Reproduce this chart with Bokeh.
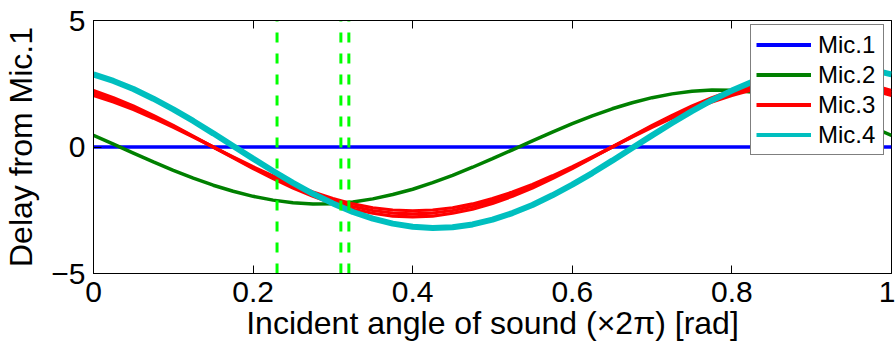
from bokeh.plotting import figure
from bokeh.models import Range1d, LinearAxis, FixedTicker, Legend, LegendItem
from bokeh.embed import file_html
from bokeh.resources import INLINE

# ---- data ----
angle = [0.000, 0.025, 0.050, 0.075, 0.100, 0.125, 0.150, 0.175, 0.200, 0.225,
         0.250, 0.275, 0.300, 0.325, 0.350, 0.375, 0.400, 0.425, 0.450, 0.475,
         0.500, 0.525, 0.550, 0.575, 0.600, 0.625, 0.650, 0.675, 0.700, 0.725,
         0.750, 0.775, 0.800, 0.825, 0.850, 0.875, 0.900, 0.925, 0.950, 0.975, 1.000]
mic1 = [0.0] * 41
mic2 = [0.46, 0.11, -0.24, -0.59, -0.92, -1.23, -1.51, -1.75, -1.95, -2.10,
        -2.20, -2.25, -2.24, -2.17, -2.05, -1.88, -1.67, -1.41, -1.12, -0.80,
        -0.46, -0.11, 0.24, 0.59, 0.92, 1.23, 1.51, 1.75, 1.95, 2.10,
        2.20, 2.25, 2.24, 2.17, 2.05, 1.88, 1.67, 1.41, 1.12, 0.80, 0.46]
mic3_a = [2.04, 1.78, 1.48, 1.14, 0.78, 0.39, 0.00, -0.39, -0.78, -1.14,
          -1.48, -1.78, -2.04, -2.25, -2.40, -2.49, -2.52, -2.49, -2.40, -2.25,
          -2.04, -1.78, -1.48, -1.14, -0.78, -0.39, 0.00, 0.39, 0.78, 1.14,
          1.48, 1.78, 2.04, 2.25, 2.40, 2.49, 2.52, 2.49, 2.40, 2.25, 2.04]
mic3_b = [2.14, 1.87, 1.55, 1.20, 0.82, 0.41, 0.00, -0.41, -0.82, -1.20,
          -1.55, -1.87, -2.14, -2.35, -2.51, -2.61, -2.64, -2.61, -2.51, -2.35,
          -2.14, -1.87, -1.55, -1.20, -0.82, -0.41, 0.00, 0.41, 0.82, 1.20,
          1.55, 1.87, 2.14, 2.35, 2.51, 2.61, 2.64, 2.61, 2.51, 2.35, 2.14]
mic3_c = [2.23, 1.95, 1.62, 1.25, 0.85, 0.43, 0.00, -0.43, -0.85, -1.25,
          -1.62, -1.95, -2.23, -2.46, -2.62, -2.73, -2.76, -2.73, -2.62, -2.46,
          -2.23, -1.95, -1.62, -1.25, -0.85, -0.43, 0.00, 0.43, 0.85, 1.25,
          1.62, 1.95, 2.23, 2.46, 2.62, 2.73, 2.76, 2.73, 2.62, 2.46, 2.23]
mic4 = [2.87, 2.61, 2.29, 1.91, 1.49, 1.03, 0.54, 0.04, -0.46, -0.95,
        -1.42, -1.85, -2.23, -2.57, -2.83, -3.03, -3.15, -3.20, -3.17, -3.06,
        -2.87, -2.61, -2.29, -1.91, -1.49, -1.03, -0.54, -0.04, 0.46, 0.95,
        1.42, 1.85, 2.23, 2.57, 2.83, 3.03, 3.15, 3.20, 3.17, 3.06, 2.87]
marker_angles = [0.23, 0.31, 0.32]
x_ticks = [0, 0.2, 0.4, 0.6, 0.8, 1]
x_tick_labels = ["0", "0.2", "0.4", "0.6", "0.8", "1"]
y_ticks = [-5, 0, 5]
y_tick_labels = ["\u22125", "0", "5"]
series_names = ["Mic.1", "Mic.2", "Mic.3", "Mic.4"]
series_colors = ["#0000ff", "#008000", "#ff0000", "#00bfbf"]

FONT = "Liberation Sans"

p = figure(width=895, height=351, output_backend="svg", toolbar_location=None,
           x_range=Range1d(0, 1), y_range=Range1d(-5, 5),
           min_border_left=92, min_border_right=4, min_border_top=20, min_border_bottom=78)
p.background_fill_color = "white"
p.border_fill_color = "white"
p.outline_line_color = "black"
p.outline_line_width = 1
p.xgrid.visible = False
p.ygrid.visible = False

def style_axis(ax, ticks, labels):
    ax.ticker = FixedTicker(ticks=ticks)
    ax.major_label_overrides = {t: l for t, l in zip(ticks, labels)}
    ax.major_tick_in = 8
    ax.major_tick_out = 0
    ax.minor_tick_in = 0
    ax.minor_tick_out = 0
    ax.axis_line_color = "black"
    ax.major_tick_line_color = "black"
    ax.major_label_text_font = FONT
    ax.major_label_text_font_size = "30px"
    ax.major_label_text_color = "black"
    ax.axis_label_text_font = FONT
    ax.axis_label_text_font_size = "32px"
    ax.axis_label_text_font_style = "normal"
    ax.axis_label_text_color = "black"

xa = p.xaxis[0]
style_axis(xa, x_ticks, x_tick_labels)
xa.axis_label = "Incident angle of sound (\u00d72\u03c0) [rad]"
xa.major_label_standoff = 8
xa.axis_label_standoff = 0

ya = p.yaxis[0]
style_axis(ya, y_ticks, y_tick_labels)
ya.axis_label = "Delay from Mic.1"
ya.major_label_standoff = 8
ya.axis_label_standoff = 9

top = LinearAxis()
style_axis(top, x_ticks, ["" for _ in x_ticks])
top.major_label_text_font_size = "0px"
top.major_label_standoff = 0
p.add_layout(top, "above")

p.line(angle, mic1, line_color=series_colors[0], line_width=3.5)
p.line(angle, mic2, line_color=series_colors[1], line_width=3.5)
for ys in (mic3_a, mic3_b, mic3_c):
    p.line(angle, ys, line_color=series_colors[2], line_width=3.2)
p.line(angle, mic4, line_color=series_colors[3], line_width=6)

p.segment(x0=marker_angles, y0=[-5] * len(marker_angles),
          x1=marker_angles, y1=[5] * len(marker_angles),
          line_color="#00ff00", line_width=3, line_dash="10 11")

# hidden copies used only as legend swatches (uniform swatch width)
swatches = [p.line(angle, ys, line_color=c, line_width=4, visible=False)
            for ys, c in zip([mic1, mic2, mic3_b, mic4], series_colors)]

legend = Legend(items=[LegendItem(label=n, renderers=[r]) for n, r in zip(series_names, swatches)],
                location=(657, 118))
legend.label_text_font = FONT
legend.label_text_font_size = "24px"
legend.label_text_color = "black"
legend.glyph_width = 55
legend.glyph_height = 29
legend.label_height = 29
legend.label_width = 60
legend.label_standoff = 7
legend.spacing = 1
legend.padding = 5
legend.margin = 0
legend.inactive_fill_alpha = 0
legend.border_line_color = "black"
legend.border_line_width = 1
legend.background_fill_color = "white"
legend.background_fill_alpha = 1
p.add_layout(legend)

open("out.html", "w").write(file_html(p, INLINE))
